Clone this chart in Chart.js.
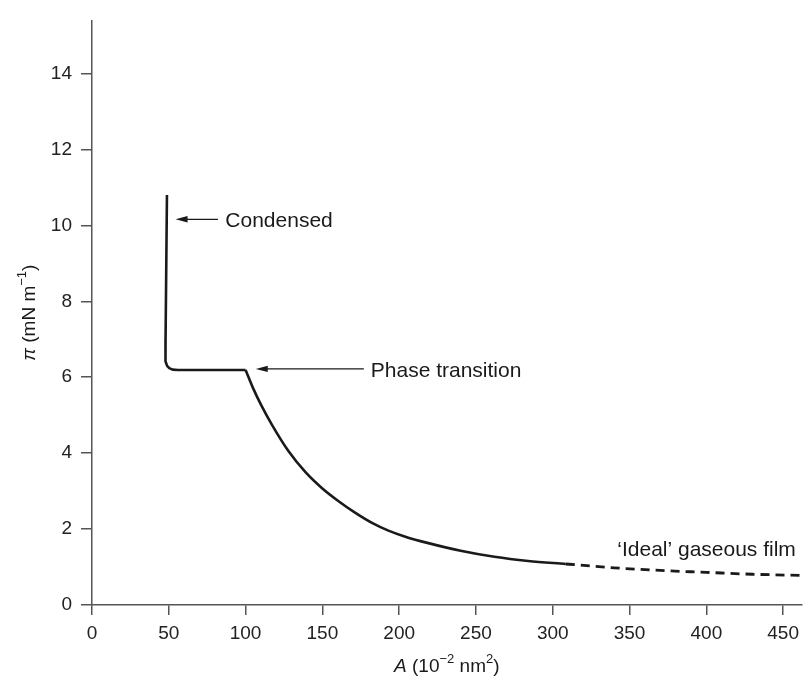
<!DOCTYPE html>
<html>
<head>
<meta charset="utf-8">
<script src="https://cdn.jsdelivr.net/npm/chart.js@4.4.1/dist/chart.umd.min.js"></script>
<style>
  html, body { margin: 0; padding: 0; background: #fff; }
  #c { display: block; }
</style>
</head>
<body>
<canvas id="c" width="806" height="679"></canvas>
<script>
// Surface pressure–area isotherm of a spread monolayer
// Condensed branch and phase-transition plateau
const areaCondensed = [48.8, 47.9, 47.7, 48.0, 48.9, 50.3, 52.5, 56.0, 70.0, 100.0];
const piCondensed   = [10.80, 7.00, 6.62, 6.42, 6.30, 6.24, 6.20, 6.19, 6.19, 6.19];

// Expanded branch below the transition
const areaExpanded = [100.0, 105.0, 110.0, 117.0, 128.0, 139.0, 150.0, 161.0, 171.0, 182.0, 193.0,
                      204.0, 219.0, 240.0, 262.0, 284.0, 308.5];
const piExpanded   = [6.19, 5.70, 5.28, 4.76, 4.05, 3.50, 3.07, 2.72, 2.44, 2.17, 1.96,
                      1.80, 1.63, 1.43, 1.27, 1.16, 1.08];

// Ideal gaseous film (dashed continuation)
const areaDashed = [308.5, 315.0, 340.0, 370.0, 400.0, 430.0, 462.0];
const piDashed   = [1.08, 1.06, 0.98, 0.91, 0.86, 0.81, 0.78];

// Axis ticks
const xTickValues = [0, 50, 100, 150, 200, 250, 300, 350, 400, 450];
const yTickValues = [0, 2, 4, 6, 8, 10, 12, 14];

// Annotations (text anchor and arrow, in data units)
const noteLabels = ['Condensed', 'Phase transition', '\u2018Ideal\u2019 gaseous film'];
const noteTextA  = [86.8, 181.5, 342.0];
const noteTextPi = [10.12, 6.17, 1.45];
const arrowTipA  = [54.4, 106.6, null];
const arrowTailA = [82.0, 177.0, null];
const arrowPi    = [10.16, 6.22, null];

const toPoints = (xs, ys) => xs.map((x, i) => ({ x: x, y: ys[i] }));

const FONT = '"Liberation Sans", Arial, Helvetica, sans-serif';
const INK = '#1a1a1a';
const AXIS = '#555';

// Draw a line of text made of styled runs: n = normal, i = italic, s = superscript
function richWidth(ctx, runs, size) {
  let w = 0;
  for (const [t, st] of runs) {
    ctx.font = (st === 'i' ? 'italic ' : '') + (st === 's' ? Math.round(size * 0.68) : size) + 'px ' + FONT;
    w += ctx.measureText(t).width;
  }
  return w;
}
function drawRich(ctx, runs, size, x, y) {
  let cx = x;
  for (const [t, st] of runs) {
    const s = st === 's' ? Math.round(size * 0.68) : size;
    ctx.font = (st === 'i' ? 'italic ' : '') + s + 'px ' + FONT;
    ctx.fillText(t, cx, st === 's' ? y - size * 0.38 : y);
    cx += ctx.measureText(t).width;
  }
}

const xTitle = [['A', 'i'], [' (10', 'n'], ['\u22122', 's'], [' nm', 'n'], ['2', 's'], [')', 'n']];
const yTitle = [['\u03c0', 'i'], [' (mN m', 'n'], ['\u22121', 's'], [')', 'n']];

const decorations = {
  id: 'decorations',
  afterDraw(chart) {
    const ctx = chart.ctx;
    const xs = chart.scales.x, ys = chart.scales.y, area = chart.chartArea;
    ctx.save();
    ctx.fillStyle = INK;
    ctx.strokeStyle = INK;
    ctx.textBaseline = 'middle';
    ctx.textAlign = 'left';

    // axis titles
    const tSize = 19;
    const wx = richWidth(ctx, xTitle, tSize);
    drawRich(ctx, xTitle, tSize, (area.left + area.right) / 2 - wx / 2, 667);
    const wy = richWidth(ctx, yTitle, tSize);
    ctx.save();
    ctx.translate(30, (area.top + area.bottom) / 2);
    ctx.rotate(-Math.PI / 2);
    drawRich(ctx, yTitle, tSize, -wy / 2, 0);
    ctx.restore();

    // annotations
    ctx.font = '21px ' + FONT;
    noteLabels.forEach((label, i) => {
      ctx.fillText(label, xs.getPixelForValue(noteTextA[i]), ys.getPixelForValue(noteTextPi[i]));
      if (arrowTipA[i] === null) return;
      const tipX = xs.getPixelForValue(arrowTipA[i]);
      const tailX = xs.getPixelForValue(arrowTailA[i]);
      const ay = ys.getPixelForValue(arrowPi[i]);
      ctx.lineWidth = 1.3;
      ctx.beginPath();
      ctx.moveTo(tipX + 8, ay);
      ctx.lineTo(tailX, ay);
      ctx.stroke();
      ctx.beginPath();
      ctx.moveTo(tipX, ay);
      ctx.lineTo(tipX + 12, ay - 3.2);
      ctx.lineTo(tipX + 12, ay + 3.2);
      ctx.closePath();
      ctx.fill();
    });
    ctx.restore();
  }
};

const lineStyle = { showLine: true, borderColor: INK, pointRadius: 0, fill: false };

new Chart(document.getElementById('c'), {
  type: 'scatter',
  data: {
    datasets: [
      Object.assign({ label: 'Condensed', data: toPoints(areaCondensed, piCondensed),
                      borderWidth: 2.6, tension: 0, borderJoinStyle: 'round' }, lineStyle),
      Object.assign({ label: 'Expanded', data: toPoints(areaExpanded, piExpanded),
                      borderWidth: 2.6, cubicInterpolationMode: 'monotone' }, lineStyle),
      Object.assign({ label: 'Ideal gaseous film', data: toPoints(areaDashed, piDashed),
                      borderWidth: 2.8, borderDash: [9, 6], cubicInterpolationMode: 'monotone' }, lineStyle)
    ]
  },
  options: {
    responsive: false,
    animation: false,
    devicePixelRatio: 1,
    layout: { padding: { top: 12, right: 0, bottom: 0, left: 0 } },
    plugins: { legend: { display: false }, tooltip: { enabled: false } },
    scales: {
      x: {
        type: 'linear',
        min: 0,
        max: 462,
        afterFit: (s) => { s.height = 74; },
        afterBuildTicks: (s) => { s.ticks = xTickValues.map(v => ({ value: v })); },
        ticks: { font: { size: 19, family: FONT }, color: '#222', padding: 7, maxRotation: 0, autoSkip: false },
        grid: { drawOnChartArea: false, drawTicks: true, tickLength: 10, color: AXIS, lineWidth: 1.5 },
        border: { display: true, color: AXIS, width: 1.5 }
      },
      y: {
        type: 'linear',
        min: 0,
        max: 15.4,
        afterFit: (s) => { s.width = 92; },
        afterBuildTicks: (s) => { s.ticks = yTickValues.map(v => ({ value: v })); },
        ticks: { font: { size: 19, family: FONT }, color: '#222', padding: 9, autoSkip: false },
        grid: { drawOnChartArea: false, drawTicks: true, tickLength: 11, color: AXIS, lineWidth: 1.5 },
        border: { display: true, color: AXIS, width: 1.5 }
      }
    }
  },
  plugins: [decorations]
});
</script>
</body>
</html>
